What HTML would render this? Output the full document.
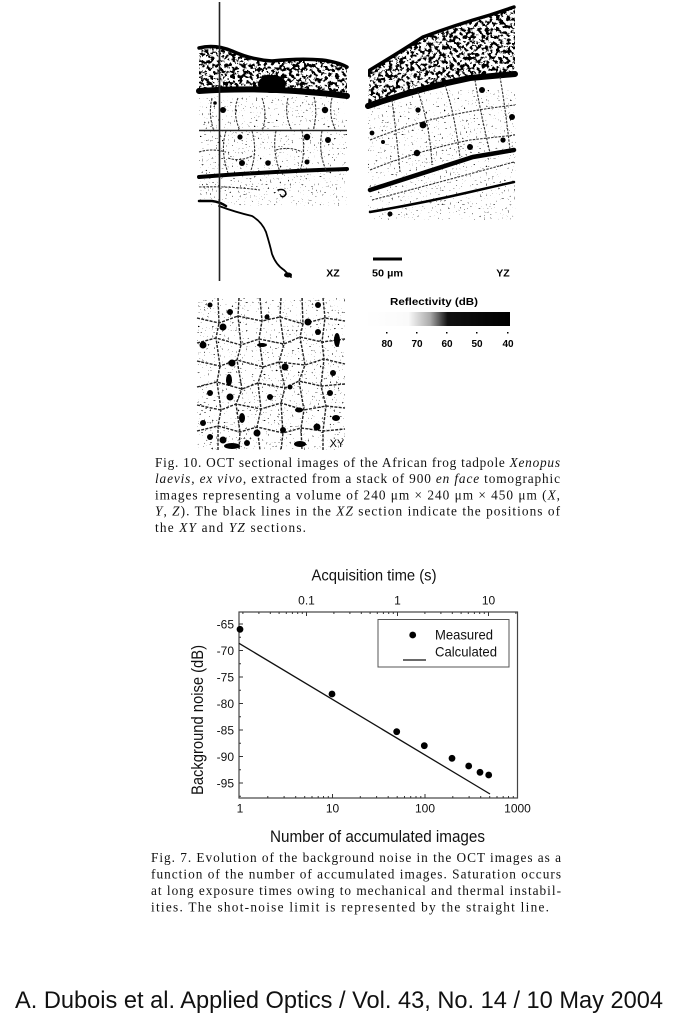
<!DOCTYPE html>
<html><head><meta charset="utf-8"><style>html,body{margin:0;padding:0;background:#fff}svg{display:block}</style></head>
<body>
<svg width="685" height="1024" viewBox="0 0 685 1024" xmlns="http://www.w3.org/2000/svg">
<defs>
<filter id="sp" x="0" y="0" width="100%" height="100%">
<feTurbulence type="fractalNoise" baseFrequency="0.28" numOctaves="3" seed="7" result="n"/>
<feColorMatrix in="n" type="matrix" values="0 0 0 0 0  0 0 0 0 0  0 0 0 0 0  16 0 0 0 -8.0"/>
<feComposite in2="SourceGraphic" operator="in"/>
</filter>
<filter id="sp2" x="0" y="0" width="100%" height="100%">
<feTurbulence type="fractalNoise" baseFrequency="0.5" numOctaves="2" seed="3" result="n"/>
<feColorMatrix in="n" type="matrix" values="0 0 0 0 0  0 0 0 0 0  0 0 0 0 0  16 0 0 0 -11.4"/>
<feComposite in2="SourceGraphic" operator="in"/>
</filter>
<clipPath id="c1"><path d="M199,48 Q215,44 232,51 Q252,60 272,61 Q300,58 322,60 Q338,62 347,67 L347,97 Q270,88 199,92 Z"/></clipPath>
<clipPath id="c2"><path d="M370,70 Q395,55 423,37 Q455,25 490,15 L515,7 L515,74 L470,78 Q420,88 368,106 Z"/></clipPath>
<linearGradient id="cb" x1="0" x2="1" y1="0" y2="0">
<stop offset="0" stop-color="#fff"/><stop offset="0.3" stop-color="#fafafa"/><stop offset="0.45" stop-color="#aaa"/><stop offset="0.57" stop-color="#111"/><stop offset="1" stop-color="#000"/>
</linearGradient>
</defs>

<!-- ===== XZ section ===== -->
<rect x="199" y="40" width="148" height="60" fill="#000" filter="url(#sp)" clip-path="url(#c1)"/>
<rect x="199" y="96" width="148" height="110" fill="#000" filter="url(#sp2)"/>
<g fill="none" stroke="#000" stroke-linecap="round">
<path d="M199,48 Q215,44 232,51 Q252,60 272,61 Q300,58 322,60 Q338,62 347,67" stroke-width="3.5"/>
<path d="M199,91 Q270,86 347,96" stroke-width="6"/>
<path d="M199,177 Q260,172 347,169" stroke-width="4"/>
<path d="M199,201 L212,201 Q220,202 226,206" stroke-width="2.5"/>
<path d="M219,206 Q235,212 252,216 Q262,222 266,232 Q270,245 272,254 Q276,265 284,270 L291,277" stroke-width="1.8"/>
<path d="M278,190 Q285,188 286,194 Q284,198 281,196" stroke-width="1.5"/>
</g>
<g fill="none" stroke="#333" stroke-width="1.1" stroke-dasharray="2.5 1.2">
<path d="M212,98 Q208,115 214,131"/><path d="M238,98 Q232,112 240,131"/><path d="M262,98 Q268,115 262,131"/>
<path d="M288,98 Q284,115 292,131"/><path d="M314,97 Q318,112 313,131"/><path d="M332,98 Q328,115 336,131"/>
<path d="M226,131 Q220,150 228,173"/><path d="M252,131 Q258,152 250,173"/><path d="M276,131 Q272,150 280,172"/>
<path d="M302,131 Q306,152 300,171"/><path d="M322,131 Q318,152 326,170"/>
<path d="M199,152 Q212,148 226,152"/><path d="M228,158 Q240,162 252,156"/><path d="M276,150 Q290,146 302,152"/>
<path d="M199,187 Q230,186 260,190"/>
</g>
<ellipse cx="272" cy="84" rx="14" ry="9" fill="#000"/>
<g fill="#000">
<circle cx="223" cy="110" r="3"/><circle cx="325" cy="110" r="3.2"/><circle cx="240" cy="137" r="2.6"/>
<circle cx="307" cy="137" r="3.2"/><circle cx="328" cy="140" r="3"/><circle cx="242" cy="163" r="3"/>
<circle cx="268" cy="163" r="2.8"/><circle cx="307" cy="162" r="2.5"/><circle cx="215" cy="103" r="1.8"/>
<ellipse cx="288" cy="275" rx="4" ry="2.5"/>
</g>
<line x1="219.5" y1="2" x2="219.5" y2="281" stroke="#222" stroke-width="1.6"/>
<line x1="199" y1="130.5" x2="347" y2="130.5" stroke="#222" stroke-width="1.4"/>

<!-- ===== YZ section ===== -->
<rect x="368" y="5" width="148" height="105" fill="#000" filter="url(#sp)" clip-path="url(#c2)"/>
<rect x="368" y="90" width="148" height="130" fill="#000" filter="url(#sp2)"/>
<g fill="none" stroke="#000" stroke-linecap="round">
<path d="M370,70 Q395,55 423,37 Q455,25 490,15 L514,7" stroke-width="3.5"/>
<path d="M368,106 Q420,88 470,78 L515,74" stroke-width="6"/>
<path d="M370,190 Q423,173 473,157 L514,150" stroke-width="4.5"/>
<path d="M370,212 Q423,203 470,192 L514,182" stroke-width="2.5"/>
<path d="M369,70 L369,76" stroke-width="2"/>
</g>
<g fill="none" stroke="#333" stroke-width="1.1" stroke-dasharray="2.5 1.2">
<path d="M392,100 Q396,130 400,172"/><path d="M418,92 Q430,125 432,165"/><path d="M445,85 Q455,115 460,158"/>
<path d="M475,80 Q480,110 490,153"/><path d="M500,77 Q505,105 510,150"/>
<path d="M370,140 Q400,128 430,120 Q470,110 515,105"/><path d="M370,170 Q420,150 470,140 L515,135"/>
<path d="M372,200 Q440,182 514,162"/>
</g>
<g fill="#000">
<circle cx="482" cy="90" r="3"/><circle cx="418" cy="110" r="2.6"/><circle cx="423" cy="125" r="3.4"/>
<circle cx="512" cy="117" r="3"/><circle cx="372" cy="133" r="2.4"/><circle cx="503" cy="140" r="2.6"/>
<circle cx="470" cy="147" r="3"/><circle cx="417" cy="153" r="3.2"/><circle cx="383" cy="142" r="2"/>
<circle cx="390" cy="214" r="2.5"/>
</g>

<!-- labels / scale bar -->
<g font-family="Liberation Sans, Arial, sans-serif" font-weight="bold" font-size="10.5" fill="#000">
<text x="333" y="276.5" text-anchor="middle">XZ</text>
<text x="503" y="276.5" text-anchor="middle">YZ</text>
<text x="372" y="276.5" textLength="31" lengthAdjust="spacingAndGlyphs">50 µm</text>
</g>
<rect x="373" y="257.5" width="29" height="3" fill="#000"/>

<!-- ===== XY section ===== -->
<rect x="197" y="298" width="148" height="152" fill="#000" filter="url(#sp2)"/>
<g fill="none" stroke="#222" stroke-width="1.4" stroke-dasharray="3 1.3">
<polyline points="197,318 219,323 238,316 262,321 280,317 303,324 325,318 345,321"/>
<polyline points="197,343 216,338 241,345 259,339 284,344 300,337 322,342 345,339"/>
<polyline points="197,361 220,366 237,360 263,367 279,362 305,365 324,359 345,364"/>
<polyline points="197,387 217,382 242,389 258,383 285,388 299,381 321,386 345,384"/>
<polyline points="197,405 221,410 236,404 261,409 281,403 304,410 326,406 345,408"/>
<polyline points="197,431 218,426 240,432 257,427 283,433 301,428 323,431 345,429"/>
<polyline points="218,298 219,323 216,338 220,366 217,382 221,410 218,426 218,450"/>
<polyline points="239,298 238,316 241,345 237,360 242,389 236,404 240,432 239,450"/>
<polyline points="260,298 262,321 259,339 263,367 258,383 261,409 257,427 260,450"/>
<polyline points="281,298 280,317 284,344 279,362 285,388 281,403 283,433 281,450"/>
<polyline points="302,298 303,324 300,337 305,365 299,381 304,410 301,428 302,450"/>
<polyline points="323,298 325,318 322,342 324,359 321,386 326,406 323,431 323,450"/>
</g>
<g fill="#000">
<circle cx="210" cy="305" r="2.5"/><circle cx="230" cy="312" r="3"/><circle cx="223" cy="327" r="3.5"/>
<circle cx="267" cy="317" r="2.5"/><circle cx="308" cy="322" r="3.5"/><circle cx="318" cy="305" r="3"/>
<circle cx="318" cy="332" r="3"/><circle cx="203" cy="345" r="3.5"/><circle cx="232" cy="363" r="3.5"/>
<circle cx="285" cy="367" r="3.5"/><ellipse cx="337" cy="340" rx="3" ry="7"/><circle cx="333" cy="373" r="3"/>
<circle cx="210" cy="393" r="3"/><circle cx="230" cy="397" r="3.5"/><circle cx="270" cy="397" r="3"/>
<circle cx="290" cy="387" r="2.5"/><circle cx="330" cy="393" r="3"/><circle cx="203" cy="423" r="3"/>
<circle cx="257" cy="433" r="3.5"/><circle cx="283" cy="430" r="3"/><circle cx="317" cy="427" r="3.5"/>
<circle cx="223" cy="440" r="3.5"/><circle cx="247" cy="443" r="3"/><circle cx="210" cy="437" r="3"/>
<ellipse cx="232" cy="446" rx="8" ry="3"/><ellipse cx="300" cy="444" rx="6" ry="3"/>
<ellipse cx="229" cy="380" rx="3" ry="6"/><ellipse cx="242" cy="418" rx="3" ry="5"/><ellipse cx="336" cy="418" rx="4" ry="3"/>
<ellipse cx="262" cy="345" rx="5" ry="2"/><ellipse cx="299" cy="410" rx="4" ry="2.5"/>
</g>
<text x="337" y="447" font-family="Liberation Sans, Arial, sans-serif" font-size="11" text-anchor="middle" fill="#000">XY</text>

<!-- colorbar -->
<g font-family="Liberation Sans, Arial, sans-serif" font-weight="bold" fill="#000">
<text x="434" y="305" font-size="10" text-anchor="middle" textLength="88" lengthAdjust="spacingAndGlyphs">Reflectivity (dB)</text>
<rect x="365" y="312" width="145" height="14" fill="url(#cb)"/>
<g font-size="10" text-anchor="middle">
<text x="387" y="347">80</text><text x="417" y="347">70</text><text x="447" y="347">60</text><text x="477" y="347">50</text><text x="508" y="347">40</text>
</g>
<g><rect x="386" y="332" width="1.5" height="1.5"/><rect x="416" y="332" width="1.5" height="1.5"/><rect x="446" y="332" width="1.5" height="1.5"/><rect x="476" y="332" width="1.5" height="1.5"/><rect x="507" y="332" width="1.5" height="1.5"/></g>
</g>

<!-- ===== Fig. 10 caption ===== -->
<g font-family="Liberation Serif, 'Times New Roman', serif" font-size="13.3" fill="#111" style="white-space:pre">
<text x="155" y="467" textLength="405" lengthAdjust="spacing">Fig. 10.   OCT sectional images of the African frog tadpole <tspan font-style="italic">Xenopus</tspan></text>
<text x="155" y="483.2" textLength="405" lengthAdjust="spacing"><tspan font-style="italic">laevis</tspan>, <tspan font-style="italic">ex vivo</tspan>, extracted from a stack of 900 <tspan font-style="italic">en face</tspan> tomographic</text>
<text x="155" y="499.5" textLength="405" lengthAdjust="spacing">images representing a volume of 240 μm × 240 μm × 450 μm (<tspan font-style="italic">X</tspan>,</text>
<text x="155" y="515.7" textLength="405" lengthAdjust="spacing"><tspan font-style="italic">Y</tspan>, <tspan font-style="italic">Z</tspan>).   The black lines in the <tspan font-style="italic">XZ</tspan> section indicate the positions of</text>
<text x="155" y="532" textLength="151" lengthAdjust="spacing">the <tspan font-style="italic">XY</tspan> and <tspan font-style="italic">YZ</tspan> sections.</text>
</g>

<!-- ===== Plot ===== -->
<g font-family="Liberation Sans, Arial, sans-serif" fill="#111">
<text x="374" y="580.5" font-size="16" text-anchor="middle" textLength="125" lengthAdjust="spacingAndGlyphs">Acquisition time (s)</text>
<g font-size="12" text-anchor="middle">
<text x="306.5" y="604.5">0.1</text><text x="397.5" y="604.5">1</text><text x="488.5" y="604.5">10</text>
<text x="240" y="812.5">1</text><text x="332.5" y="812.5">10</text><text x="425" y="812.5">100</text><text x="517.5" y="812.5">1000</text>
</g>
<g font-size="12" text-anchor="end">
<text x="234" y="628.3">-65</text><text x="234" y="654.8">-70</text><text x="234" y="681.3">-75</text><text x="234" y="707.8">-80</text>
<text x="234" y="734.3">-85</text><text x="234" y="760.8">-90</text><text x="234" y="787.3">-95</text>
</g>
<text x="377.5" y="842" font-size="17" text-anchor="middle" textLength="215" lengthAdjust="spacingAndGlyphs">Number of accumulated images</text>
<text transform="translate(203,720) rotate(-90)" x="0" y="0" font-size="17" text-anchor="middle" textLength="150" lengthAdjust="spacingAndGlyphs">Background noise (dB)</text>
</g>
<rect x="239" y="612" width="278.5" height="186" fill="none" stroke="#444" stroke-width="1.2"/>
<path fill="none" stroke="#333" stroke-width="1" d="
M239,624h4 M239,650.5h4 M239,677h4 M239,703.5h4 M239,730h4 M239,756.5h4 M239,783h4
M239,637.25h2 M239,663.75h2 M239,690.25h2 M239,716.75h2 M239,743.25h2 M239,769.75h2 M239,796.25h2
M332.5,798v-4 M425,798v-4
M267.8,798v-2 M284.1,798v-2 M295.7,798v-2 M304.7,798v-2 M312,798v-2 M318.2,798v-2 M323.5,798v-2 M328.3,798v-2
M360.3,798v-2 M376.6,798v-2 M388.2,798v-2 M397.2,798v-2 M404.5,798v-2 M410.7,798v-2 M416,798v-2 M420.8,798v-2
M452.8,798v-2 M469.1,798v-2 M480.7,798v-2 M489.7,798v-2 M497,798v-2 M503.2,798v-2 M508.5,798v-2 M513.3,798v-2
M306.5,612v4 M397.5,612v4 M488.5,612v4
M242.9,612v2 M258.9,612v2 M270.3,612v2 M279.1,612v2 M286.3,612v2 M292.4,612v2 M297.7,612v2 M302.3,612v2
M333.9,612v2 M349.9,612v2 M361.3,612v2 M370.1,612v2 M377.3,612v2 M383.4,612v2 M388.7,612v2 M393.3,612v2
M424.9,612v2 M440.9,612v2 M452.3,612v2 M461.1,612v2 M468.3,612v2 M474.4,612v2 M479.7,612v2 M484.3,612v2 M515.9,612v2"/>
<line x1="239" y1="643.3" x2="490" y2="794" stroke="#111" stroke-width="1.3"/>
<g fill="#000">
<circle cx="240" cy="629.3" r="3.4"/><circle cx="332" cy="694" r="3.4"/><circle cx="396.7" cy="731.7" r="3.4"/>
<circle cx="424.3" cy="745.7" r="3.4"/><circle cx="452" cy="758.3" r="3.4"/><circle cx="468.7" cy="766" r="3.4"/>
<circle cx="480" cy="772.3" r="3.4"/><circle cx="488.7" cy="775" r="3.4"/>
</g>
<rect x="378" y="619.5" width="131" height="47.5" fill="#fff" stroke="#555" stroke-width="1"/>
<circle cx="412.7" cy="635" r="3.4" fill="#000"/>
<line x1="403" y1="660" x2="426" y2="660" stroke="#111" stroke-width="1.2"/>
<g font-family="Liberation Sans, Arial, sans-serif" font-size="14" fill="#111">
<text x="435" y="639.5" textLength="58" lengthAdjust="spacingAndGlyphs">Measured</text>
<text x="435" y="656.7" textLength="62" lengthAdjust="spacingAndGlyphs">Calculated</text>
</g>

<!-- ===== Fig. 7 caption ===== -->
<g font-family="Liberation Serif, 'Times New Roman', serif" font-size="13.3" fill="#111" style="white-space:pre">
<text x="151" y="862" textLength="410" lengthAdjust="spacing">Fig. 7.   Evolution of the background noise in the OCT images as a</text>
<text x="151" y="878.5" textLength="410" lengthAdjust="spacing">function of the number of accumulated images.   Saturation occurs</text>
<text x="151" y="895" textLength="410" lengthAdjust="spacing">at long exposure times owing to mechanical and thermal instabil-</text>
<text x="151" y="911.5" textLength="398" lengthAdjust="spacing">ities.   The shot-noise limit is represented by the straight line.</text>
</g>

<!-- citation -->
<text x="15" y="1008" font-family="Liberation Sans, Arial, sans-serif" font-size="24" fill="#111" textLength="648" lengthAdjust="spacingAndGlyphs">A. Dubois et al. Applied Optics / Vol. 43, No. 14 / 10 May 2004</text>
</svg>
</body></html>
